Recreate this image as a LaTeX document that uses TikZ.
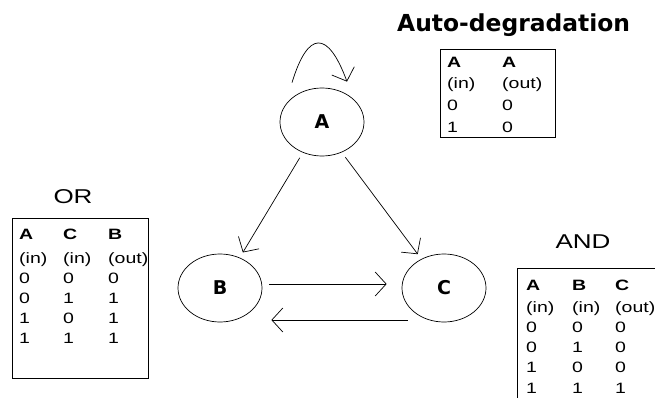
\documentclass[tikz,border=0pt]{standalone}
\usepackage{fontspec}
\setmainfont{Liberation Sans}
\newfontfamily\tabfont[FakeStretch=1.3]{Liberation Sans}
\newfontfamily\boldfont{DejaVu Sans}
\usetikzlibrary{arrows.meta,shapes.geometric}

\begin{document}
\begin{tikzpicture}[x=1pt,y=-1pt,
    gene/.style={draw,ellipse,line width=0.7pt,minimum width=84pt,minimum height=68pt,
      inner sep=0pt,font=\boldfont\bfseries\fontsize{19}{19}\selectfont},
    arr/.style={-{Straight Barb[length=11pt,width=24pt]},line width=0.7pt},
    cell/.style={anchor=base west,inner sep=0pt,font=\tabfont\fontsize{15}{15}\selectfont},
    hcell/.style={cell,font=\tabfont\bfseries\fontsize{15}{15}\selectfont},
    gate/.style={inner sep=0pt,font=\tabfont\fontsize{20}{20}\selectfont}]
    \useasboundingbox (0,0) rectangle (655,398);

    % the three genes
    \node[gene] (A) at (322,122) {A};
    \node[gene] (B) at (220,288) {B};
    \node[gene] (C) at (444,288) {C};

    \draw[arr,shorten <=6pt,shorten >=6pt] (A.238) -- (B.57);
    \draw[arr,shorten <=6pt,shorten >=6pt] (A.303) -- (C.128);
    \draw[arr] ([xshift=7pt,yshift=4pt]B.east) -- ([xshift=-15pt,yshift=4pt]C.west);
    \draw[arr] ([xshift=6pt,yshift=-32pt]C.west) -- ([xshift=9pt,yshift=-32pt]B.east);
    \draw[arr] ([xshift=-30pt,yshift=5pt]A.north) .. controls (308,30) and (328,30) .. ([xshift=25pt,yshift=6pt]A.north);

    % self-degradation of A
    \node[anchor=base west,inner sep=0pt,font=\boldfont\bfseries\fontsize{23.4}{23.4}\selectfont] (autotitle) at (397,32) {Auto-degradation};
    \draw[line width=0.7pt] (440,49) rectangle (555,137);
    \foreach \col/\x/\io in {1/447/in, 2/502/out} {
      \node[hcell] (auto-h\col) at (\x,68) {A};
      \node[cell] (auto-io\col) at (\x,88.5) {(\io)};
    }
    \foreach \r/\a/\b in {1/0/0, 2/1/0} {
      \node[cell] (auto-\r a) at (447,{88.5+22*\r}) {\a};
      \node[cell] (auto-\r b) at (502,{88.5+22*\r}) {\b};
    }

    % OR table for B
    \node[gate] (ortitle) at (73,197) {OR};
    \draw[line width=0.7pt] (12,218) rectangle (148,378);
    \foreach \col/\x/\h/\io in {1/19/A/in, 2/63/C/in, 3/108/B/out} {
      \node[hcell] (or-h\col) at (\x,239.5) {\h};
      \node[cell] (or-io\col) at (\x,263) {(\io)};
    }
    \foreach \r/\a/\c/\b in {1/0/0/0, 2/0/1/1, 3/1/0/1, 4/1/1/1} {
      \node[cell] (or-\r a) at (19,{263.5+20*\r}) {\a};
      \node[cell] (or-\r c) at (63,{263.5+20*\r}) {\c};
      \node[cell] (or-\r b) at (108,{263.5+20*\r}) {\b};
    }

    % AND table for C
    \node[gate] (andtitle) at (583,242) {AND};
    \draw[line width=0.7pt] (655,268) -- (517,268) -- (517,398);
    \foreach \col/\x/\h/\io in {1/526/A/in, 2/572/B/in, 3/615/C/out} {
      \node[hcell] (and-h\col) at (\x,290.5) {\h};
      \node[cell] (and-io\col) at (\x,312) {(\io)};
    }
    \foreach \r/\a/\b/\c in {1/0/0/0, 2/0/1/0, 3/1/0/0, 4/1/1/1} {
      \node[cell] (and-\r a) at (526,{312+20.3*\r}) {\a};
      \node[cell] (and-\r b) at (572,{312+20.3*\r}) {\b};
      \node[cell] (and-\r c) at (615,{312+20.3*\r}) {\c};
    }
\end{tikzpicture}
\end{document}
